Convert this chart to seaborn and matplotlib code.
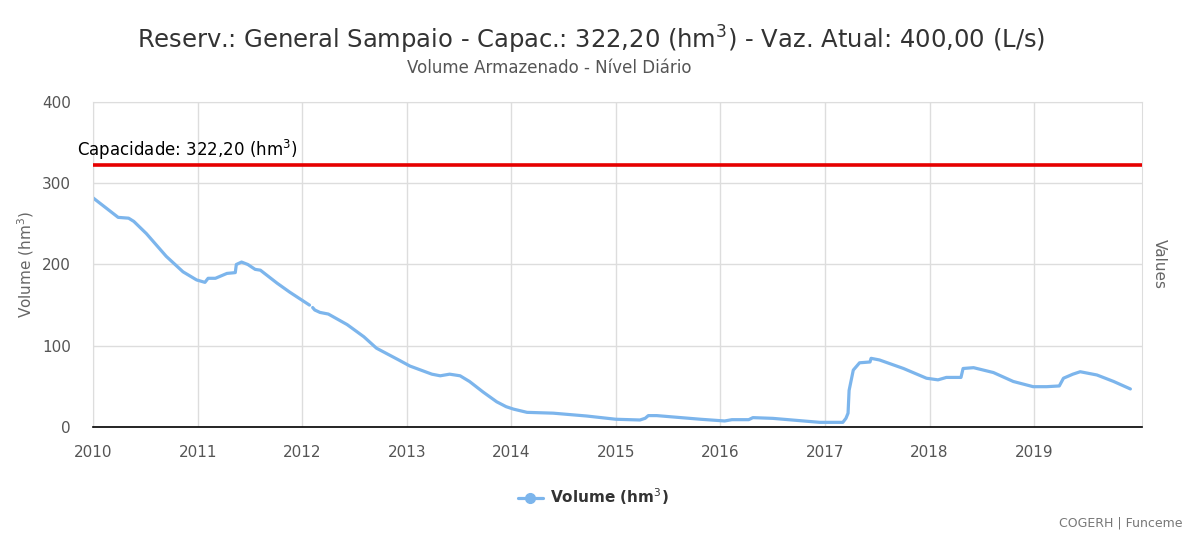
import matplotlib
matplotlib.use("Agg")
import matplotlib.pyplot as plt
import seaborn as sns
import numpy as np
import pandas as pd

# dados (ano decimal, volume hm3)
anos = [2010.00, 2010.24, 2010.34, 2010.39, 2010.51, 2010.70, 2010.86, 2010.99,
        2011.07, 2011.10, 2011.17, 2011.28, 2011.36, 2011.37, 2011.42, 2011.48,
        2011.55, 2011.60, 2011.76, 2011.88, 2012.07,
        2012.10, 2012.12,
        2012.17, 2012.25, 2012.43, 2012.59, 2012.71, 2012.93, 2013.03, 2013.24,
        2013.32, 2013.41, 2013.51, 2013.60, 2013.73, 2013.86, 2013.95, 2014.02,
        2014.15, 2014.40, 2014.72, 2015.00, 2015.23, 2015.28, 2015.31, 2015.39,
        2015.81, 2016.04, 2016.11, 2016.27, 2016.31, 2016.50, 2016.95, 2017.04,
        2017.17, 2017.20, 2017.22, 2017.23, 2017.27, 2017.33, 2017.43, 2017.44,
        2017.52, 2017.75, 2017.97, 2018.08, 2018.16, 2018.30, 2018.32, 2018.42,
        2018.61, 2018.80, 2018.99, 2019.12, 2019.24, 2019.28, 2019.37, 2019.44,
        2019.60, 2019.76, 2019.92]
volume = [282, 258, 257, 253, 238, 210, 191, 181,
          178, 183, 183, 189, 190, 200, 203, 200,
          194, 193, 177, 166, 150,
          147, 144,
          141, 139, 126, 111, 97, 82, 75, 65,
          63, 65, 63, 56, 43, 31, 25, 22,
          18, 17, 13.5, 9.5, 8.6, 10.7, 14, 14,
          9.5, 7.4, 9, 9, 11.5, 10.6, 5.7, 5.7,
          5.7, 10.7, 17, 45, 70, 79, 80, 84.5,
          82.5, 72, 60, 58, 61, 61, 72, 73,
          67, 56, 49.6, 49.6, 50.5, 60, 65, 68,
          64, 56, 46.8]
# pequena falha na série no início de 2012
trecho = [0] * 21 + [1] * (len(anos) - 21)
capacidade = 322.20
anos_ticks = list(range(2010, 2020))

df = pd.DataFrame({"ano": anos, "volume": volume, "trecho": trecho})

sns.set_style("white")
plt.rcParams['font.family'] = ['DejaVu Sans']

fig = plt.figure(figsize=(11.87, 5.36), dpi=100)
ax = fig.add_axes([0.0784, 0.2034, 0.962 - 0.0784, 0.8097 - 0.2034])

sns.lineplot(data=df, x="ano", y="volume", units="trecho", estimator=None, ax=ax,
             color="#7cb5ec", linewidth=2.3, legend=False)
ax.axhline(capacidade, color="#e60000", linewidth=2.6, zorder=3)
ax.text(2009.85, capacidade + 4, "Capacidade: 322,20 (hm$^3$)", fontsize=12,
        color="black", ha="left", va="bottom", clip_on=False)

ax.set_xlim(2010, 2020.03)
ax.set_ylim(0, 400)
ax.set_yticks([0, 100, 200, 300, 400])
ax.set_xticks(anos_ticks)
ax.set_xticklabels([str(a) for a in anos_ticks])
ax.grid(True, color="#dddddd", linewidth=1)
ax.set_axisbelow(True)
for s in ["top", "right", "left"]:
    ax.spines[s].set_visible(True)
    ax.spines[s].set_color("#dddddd")
ax.spines["bottom"].set_color("black")
ax.spines["bottom"].set_linewidth(1.2)
ax.tick_params(axis="x", direction="out", length=10, width=1, color="black",
               labelsize=11, labelcolor="#555555", pad=3)
ax.tick_params(axis="y", length=0, labelsize=11, labelcolor="#555555", pad=16)
ax.set_xlabel("")
ax.set_ylabel("Volume (hm$^3$)", fontsize=11, color="#666666", labelpad=4)

ax2 = ax.twinx()
ax2.set_yticks([])
ax2.set_ylabel("Values", fontsize=11, color="#666666", rotation=270, labelpad=18)
for s in ax2.spines.values():
    s.set_visible(False)

fig.text(0.498, 0.925, "Reserv.: General Sampaio - Capac.: 322,20 (hm$^3$) - Vaz. Atual: 400,00 (L/s)",
         ha="center", va="center", fontsize=17.5, color="#333333")
fig.text(0.463, 0.873, "Volume Armazenado - Nível Diário", ha="center", va="center",
         fontsize=12, color="#555555")

leg = fig.legend(handles=[plt.Line2D([], [], color="#7cb5ec", linewidth=2.3, marker="o",
                                     markersize=7)],
                 labels=["Volume (hm$^3$)"], loc="center", bbox_to_anchor=(0.5, 0.073),
                 frameon=False, prop={"weight": "bold", "size": 11}, handlelength=1.6,
                 handletextpad=0.5)
for t in leg.get_texts():
    t.set_color("#333333")

fig.text(0.996, 0.012, "COGERH | Funceme", ha="right", va="bottom", fontsize=9,
         color="#777777")

fig.savefig("out.png", dpi=100)
